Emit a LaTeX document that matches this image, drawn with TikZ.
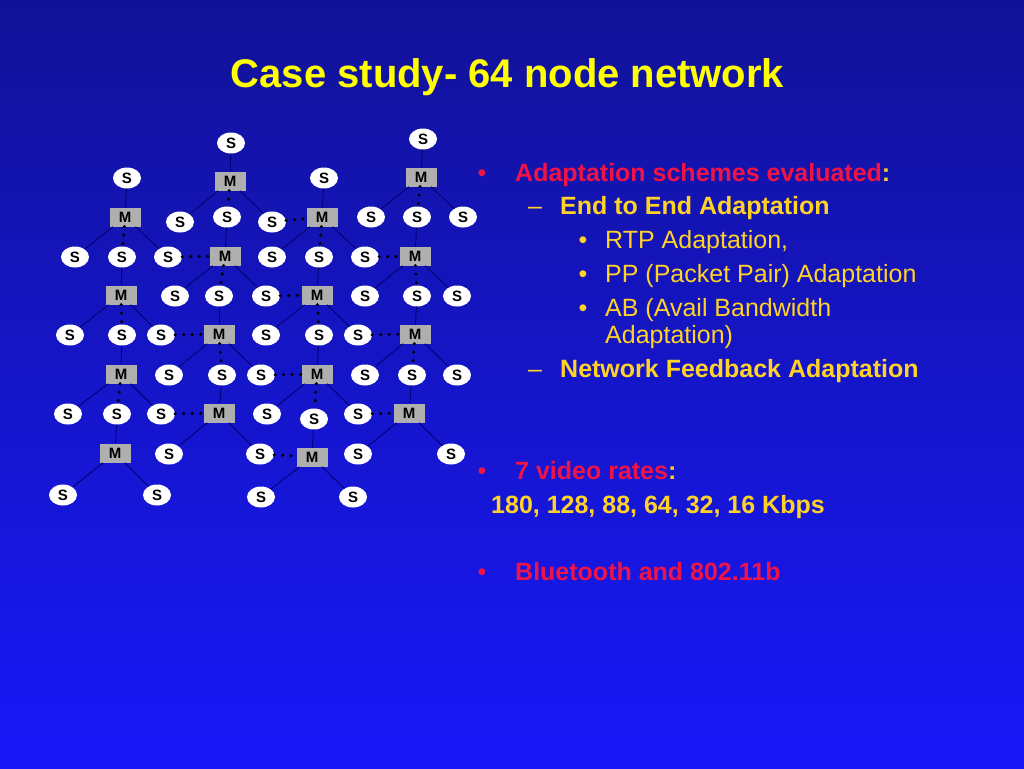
\documentclass[tikz,border=0pt]{standalone}
\usepackage{fontspec}
\setmainfont{Liberation Sans}
\usetikzlibrary{shapes.geometric}
\definecolor{bgtop}{RGB}{18,18,152}
\definecolor{bgbot}{RGB}{24,24,250}
\definecolor{titley}{RGB}{255,255,0}
\definecolor{redt}{RGB}{240,20,70}
\definecolor{goldt}{RGB}{255,210,40}
\definecolor{linkc}{RGB}{0,0,105}
\definecolor{mgray}{RGB}{175,175,175}
\begin{document}
\begin{tikzpicture}[x=1pt,y=-1pt,
  sn/.style={ellipse,fill=white,minimum width=28pt,minimum height=21pt,inner sep=0pt,
     font=\fontsize{15}{15}\selectfont\bfseries,text=black},
  mn/.style={rectangle,fill=mgray,minimum width=31pt,minimum height=19pt,inner sep=0pt,
     font=\fontsize{15}{15}\selectfont\bfseries,text=black},
  link/.style={draw=linkc,line width=0.8pt},
  bridge/.style={draw=black,line width=3.4pt,line cap=round,dash pattern=on 0pt off 8.5pt},
  txt/.style={anchor=base west,inner sep=0pt,font=\fontsize{25}{30}\selectfont},
  bul/.style={anchor=base,inner sep=0pt,font=\fontsize{25}{30}\selectfont}]
\useasboundingbox (0,0) rectangle (1024,768);
\shade[top color=bgtop,bottom color=bgbot] (0,0) rectangle (1024,768);

% title
\node[anchor=base,inner sep=0pt,font=\fontsize{40}{48}\selectfont\bfseries,text=titley] (title) at (507.5,87) {Case study- 64 node network};

% ---------- masters ----------
\node[mn] (m-l-1) at (125,217) {M};
\node[mn] (m-l-2) at (121,295) {M};
\node[mn] (m-l-3) at (121,374) {M};
\node[mn] (m-l-4) at (115,453) {M};
\node[mn] (m-b-1) at (230,181) {M};
\node[mn] (m-b-2) at (225,256) {M};
\node[mn] (m-b-3) at (219,334) {M};
\node[mn] (m-b-4) at (219,413) {M};
\node[mn] (m-c-1) at (322,217) {M};
\node[mn] (m-c-2) at (317,295) {M};
\node[mn] (m-c-3) at (317,374) {M};
\node[mn] (m-c-4) at (312,457) {M};
\node[mn] (m-d-1) at (421,177) {M};
\node[mn] (m-d-2) at (415,256) {M};
\node[mn] (m-d-3) at (415,334) {M};
\node[mn] (m-d-4) at (409,413) {M};

% ---------- slaves ----------
\node[sn] (s-l-t) at (127,178) {S};
\node[sn] (s-l-1a) at (75,257) {S};
\node[sn] (s-l-1b) at (122,257) {S};
\node[sn] (s-l-1c) at (168,257) {S};
\node[sn] (s-l-2a) at (70,335) {S};
\node[sn] (s-l-2b) at (122,335) {S};
\node[sn] (s-l-2c) at (161,335) {S};
\node[sn] (s-l-3a) at (68,414) {S};
\node[sn] (s-l-3b) at (117,414) {S};
\node[sn] (s-l-3c) at (161,414) {S};
\node[sn] (s-l-4a) at (63,495) {S};
\node[sn] (s-l-4c) at (157,495) {S};

\node[sn] (s-b-t) at (231,143) {S};
\node[sn] (s-b-1a) at (180,222) {S};
\node[sn] (s-b-1b) at (227,217) {S};
\node[sn] (s-b-1c) at (272,222) {S};
\node[sn] (s-b-2a) at (175,296) {S};
\node[sn] (s-b-2b) at (219,296) {S};
\node[sn] (s-b-2c) at (266,296) {S};
\node[sn] (s-b-3a) at (169,375) {S};
\node[sn] (s-b-3b) at (222,375) {S};
\node[sn] (s-b-3c) at (261,375) {S};
\node[sn] (s-b-4a) at (169,454) {S};
\node[sn] (s-b-4c) at (260,454) {S};

\node[sn] (s-c-t) at (324,178) {S};
\node[sn] (s-c-1a) at (272,257) {S};
\node[sn] (s-c-1b) at (319,257) {S};
\node[sn] (s-c-1c) at (365,257) {S};
\node[sn] (s-c-2a) at (266,335) {S};
\node[sn] (s-c-2b) at (319,335) {S};
\node[sn] (s-c-2c) at (358,335) {S};
\node[sn] (s-c-3a) at (267,414) {S};
\node[sn] (s-c-3b) at (314,419) {S};
\node[sn] (s-c-3c) at (358,414) {S};
\node[sn] (s-c-4a) at (261,497) {S};
\node[sn] (s-c-4c) at (353,497) {S};

\node[sn] (s-d-t) at (423,139) {S};
\node[sn] (s-d-1a) at (371,217) {S};
\node[sn] (s-d-1b) at (417,217) {S};
\node[sn] (s-d-1c) at (463,217) {S};
\node[sn] (s-d-2a) at (365,296) {S};
\node[sn] (s-d-2b) at (417,296) {S};
\node[sn] (s-d-2c) at (457,296) {S};
\node[sn] (s-d-3a) at (365,375) {S};
\node[sn] (s-d-3b) at (412,375) {S};
\node[sn] (s-d-3c) at (457,375) {S};
\node[sn] (s-d-4a) at (358,454) {S};
\node[sn] (s-d-4c) at (451,454) {S};

% ---------- links ----------
\foreach \c in {l,b,c,d} {
  \draw[link] (m-\c-1) -- (s-\c-t);
  \draw[link] (m-\c-1) -- (s-\c-1a);
  \draw[link] (m-\c-1) -- (s-\c-1c);
  \draw[link] (m-\c-2) -- (s-\c-1b);
  \draw[link] (m-\c-2) -- (s-\c-2a);
  \draw[link] (m-\c-2) -- (s-\c-2c);
  \draw[link] (m-\c-3) -- (s-\c-2b);
  \draw[link] (m-\c-3) -- (s-\c-3a);
  \draw[link] (m-\c-3) -- (s-\c-3c);
  \draw[link] (m-\c-4) -- (s-\c-3b);
  \draw[link] (m-\c-4) -- (s-\c-4a);
  \draw[link] (m-\c-4) -- (s-\c-4c);
  \draw[bridge] (m-\c-1) -- (s-\c-1b);
  \draw[bridge] (m-\c-2) -- (s-\c-2b);
  \draw[bridge] (m-\c-3) -- (s-\c-3b);
}
\draw[bridge] (s-l-1c) -- (m-b-2);
\draw[bridge] (s-b-1c) -- (m-c-1);
\draw[bridge] (s-c-1c) -- (m-d-2);
\draw[bridge] (s-l-2c) -- (m-b-3);
\draw[bridge] (s-b-2c) -- (m-c-2);
\draw[bridge] (s-c-2c) -- (m-d-3);
\draw[bridge] (s-l-3c) -- (m-b-4);
\draw[bridge] (s-b-3c) -- (m-c-3);
\draw[bridge] (s-c-3c) -- (m-d-4);
\draw[bridge] (s-b-4c) -- (m-c-4);

% ---------- text ----------
\node[bul,text=redt] (b1) at (482,181) {•};
\node[txt,font=\fontsize{25}{30}\selectfont\bfseries] (t1) at (515,181) {\textcolor{redt}{Adaptation schemes evaluated}\textcolor{goldt}{:}};
\node[bul,text=goldt] (d1) at (535,214) {–};
\node[txt,font=\fontsize{25}{30}\selectfont\bfseries,text=goldt] (t2) at (560,214) {End to End Adaptation};
\node[bul,text=goldt] (b2) at (583,248) {•};
\node[txt,text=goldt] (t3) at (605,248) {RTP Adaptation,};
\node[bul,text=goldt] (b3) at (583,282) {•};
\node[txt,text=goldt] (t4) at (605,282) {PP (Packet Pair) Adaptation};
\node[bul,text=goldt] (b4) at (583,316) {•};
\node[txt,text=goldt] (t5) at (605,316) {AB (Avail Bandwidth};
\node[txt,text=goldt] (t6) at (605,343) {Adaptation)};
\node[bul,text=goldt] (d2) at (535,377) {–};
\node[txt,font=\fontsize{25}{30}\selectfont\bfseries,text=goldt] (t7) at (560,377) {Network Feedback Adaptation};

\node[bul,text=redt] (b5) at (482,479) {•};
\node[txt,font=\fontsize{25}{30}\selectfont\bfseries] (t8) at (515,479) {\textcolor{redt}{7 video rates}\textcolor{goldt}{:}};
\node[txt,font=\fontsize{25}{30}\selectfont\bfseries,text=goldt] (t9) at (491,513) {180, 128, 88, 64, 32, 16 Kbps};
\node[bul,text=redt] (b6) at (482,580) {•};
\node[txt,font=\fontsize{25}{30}\selectfont\bfseries,text=redt] (t10) at (515,580) {Bluetooth and 802.11b};
\end{tikzpicture}
\end{document}
